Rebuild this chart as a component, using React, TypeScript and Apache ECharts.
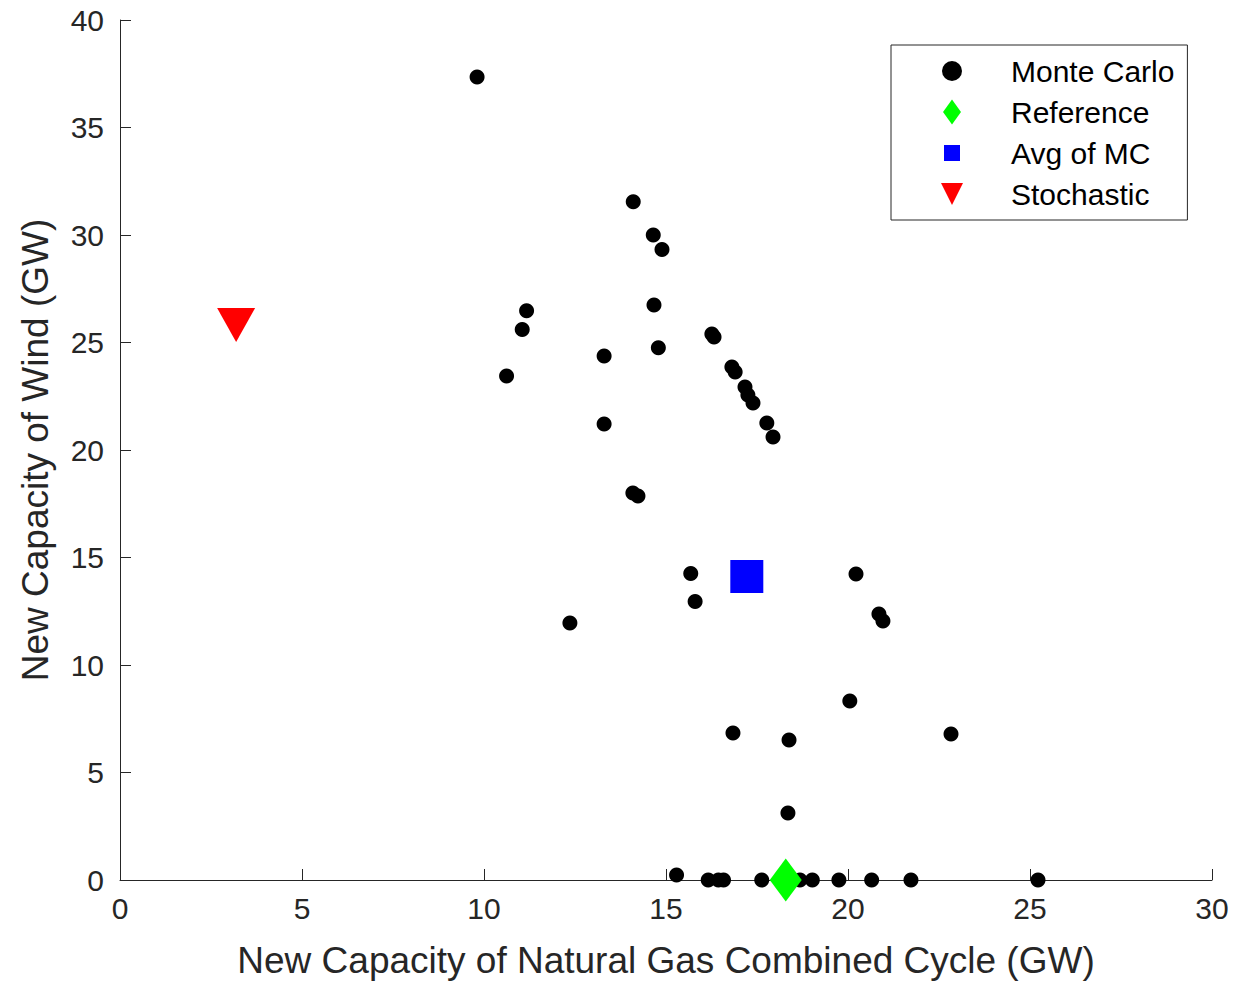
import React, { useEffect, useRef } from "react";
import * as echarts from "echarts";

// Monte Carlo samples (GW)
const mcNGCC = [
  9.81, 14.1, 14.65, 14.89, 11.17, 14.67, 11.05, 16.26, 16.32, 14.79, 13.3, 10.62,
  16.81, 16.9, 17.17, 17.25, 17.39, 17.77, 17.94, 13.3, 14.09, 14.23, 15.68, 15.8,
  12.36, 20.22, 20.85, 20.96, 20.05, 16.84, 18.38, 22.83, 18.35, 15.29, 16.16, 16.44,
  16.58, 17.63, 18.68, 19.02, 19.75, 20.65, 21.73, 25.22,
];
const mcWind = [
  37.35, 31.55, 30.0, 29.33, 26.48, 26.74, 25.61, 25.4, 25.26, 24.76, 24.37, 23.44,
  23.86, 23.63, 22.93, 22.56, 22.19, 21.26, 20.6, 21.21, 18.0, 17.86, 14.26, 12.95,
  11.95, 14.23, 12.37, 12.05, 8.33, 6.84, 6.51, 6.79, 3.12, 0.23, 0, 0,
  0, 0, 0, 0, 0, 0, 0, 0,
];
const referencePoint = [18.29, 0];
const avgOfMC = [17.22, 14.12];
const stochasticPoint = [3.19, 25.81];

const seriesNames = ["Monte Carlo", "Reference", "Avg of MC", "Stochastic"];
const xTitle = "New Capacity of Natural Gas Combined Cycle (GW)";
const yTitle = "New Capacity of Wind (GW)";

const FONT = '"Liberation Sans", Arial, Helvetica, sans-serif';
const AXIS_COLOR = "#262626";

export default function App() {
  const ref = useRef<HTMLDivElement>(null);

  useEffect(() => {
    if (!ref.current) return;
    const chart = echarts.init(ref.current, undefined, { renderer: "svg" });
    const mcData = mcNGCC.map((x, i) => [x, mcWind[i]]);

    const axisCommon = {
      min: 0,
      interval: 5,
      splitLine: { show: false },
      axisLine: { show: true, lineStyle: { color: AXIS_COLOR, width: 1 } },
      axisTick: { show: true, inside: true, length: 11, lineStyle: { color: AXIS_COLOR, width: 1 } },
      nameLocation: "middle" as const,
      nameTextStyle: { fontFamily: FONT, fontSize: 37, color: AXIS_COLOR },
    };

    chart.setOption({
      animation: false,
      backgroundColor: "#ffffff",
      textStyle: { fontFamily: FONT },
      grid: { left: 120, right: 41, top: 20, bottom: 103, containLabel: false, outerBoundsMode: "none" },
      xAxis: {
        ...axisCommon,
        type: "value",
        max: 30,
        name: xTitle,
        nameGap: 62,
        axisLabel: { fontFamily: FONT, fontSize: 30, color: AXIS_COLOR, margin: 13 },
      },
      yAxis: {
        ...axisCommon,
        type: "value",
        max: 40,
        name: yTitle,
        nameGap: 66,
        axisLabel: { fontFamily: FONT, fontSize: 30, color: AXIS_COLOR, margin: 16 },
      },
      legend: {
        orient: "vertical",
        left: 891,
        top: 45,
        padding: [11, 13, 11, 50],
        itemWidth: 22,
        itemHeight: 25,
        itemGap: 11,
        borderColor: AXIS_COLOR,
        borderWidth: 1,
        backgroundColor: "#ffffff",
        selectedMode: false,
        textStyle: {
          fontFamily: FONT,
          fontSize: 30,
          color: "#000000",
          padding: [0, 0, 0, 43],
        },
        data: [
          { name: seriesNames[0], icon: "path://M0,0M22,25M1,12.5a10,10 0 1,0 20,0a10,10 0 1,0 -20,0z", itemStyle: { opacity: 1 } },
          { name: seriesNames[1], icon: "path://M0,0M22,25M11,0L20,12.5L11,25L2,12.5Z", itemStyle: { opacity: 1 } },
          { name: seriesNames[2], icon: "path://M0,0M22,25M3,4.5L19,4.5L19,20.5L3,20.5Z", itemStyle: { opacity: 1 } },
          { name: seriesNames[3], icon: "path://M0,0M22,25M0,1.5L22,1.5L11,23.5Z", itemStyle: { opacity: 1 } },
        ],
      },
      series: [
        {
          name: seriesNames[0],
          type: "scatter",
          symbol: "circle",
          symbolSize: 15,
          itemStyle: { color: "#000000", opacity: 1 },
          data: mcData,
          z: 2,
        },
        {
          name: seriesNames[1],
          type: "scatter",
          symbol: "diamond",
          symbolSize: [32, 43],
          itemStyle: { color: "#00ff00", opacity: 1 },
          data: [referencePoint],
          z: 3,
        },
        {
          name: seriesNames[2],
          type: "scatter",
          symbol: "rect",
          symbolSize: 33,
          itemStyle: { color: "#0000ff", opacity: 1 },
          data: [avgOfMC],
          z: 3,
        },
        {
          name: seriesNames[3],
          type: "scatter",
          symbol: "triangle",
          symbolRotate: 180,
          symbolSize: [38, 34],
          itemStyle: { color: "#ff0000", opacity: 1 },
          data: [stochasticPoint],
          z: 3,
        },
      ],
    });

    return () => {
      chart.dispose();
    };
  }, []);

  return (
    <div
      ref={ref}
      style={{ position: "absolute", left: 0, top: 0, width: 1253, height: 983, background: "#fff" }}
    />
  );
}
